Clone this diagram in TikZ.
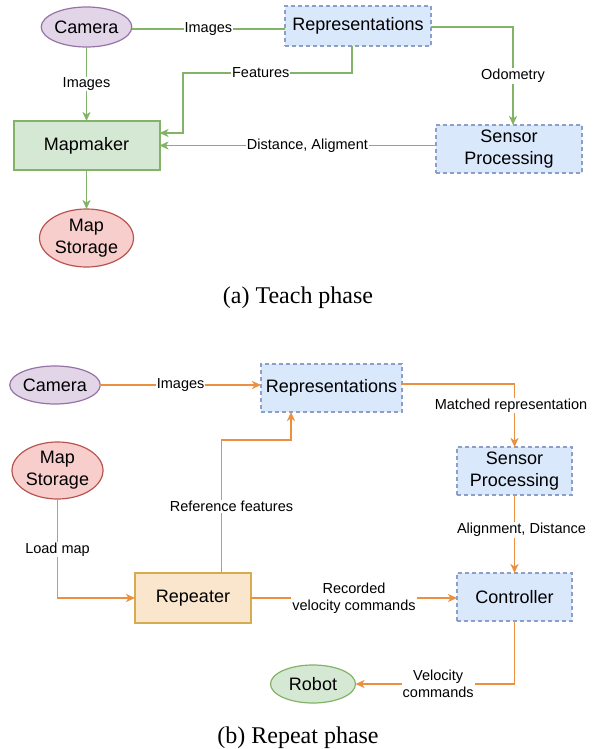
\documentclass[tikz,border=0pt]{standalone}
\usepackage{fontspec}
\setmainfont{Liberation Sans}
\newfontfamily\capfont{Liberation Serif}
\usetikzlibrary{arrows.meta,shapes.geometric}
\definecolor{purf}{HTML}{E1D5E7}
\definecolor{purd}{HTML}{9673A6}
\definecolor{redf}{HTML}{F8CECC}
\definecolor{redd}{HTML}{B85450}
\definecolor{grnf}{HTML}{D5E8D4}
\definecolor{grnd}{HTML}{82B366}
\definecolor{bluf}{HTML}{DAE8FC}
\definecolor{blud}{HTML}{8C9FCB}
\definecolor{yelf}{HTML}{F9E6CC}
\definecolor{yeld}{HTML}{D6AC50}
\definecolor{orgl}{HTML}{EA9040}
\begin{document}
\begin{tikzpicture}[x=1pt,y=-1pt,
  nodetxt/.style={font=\fontsize{18}{22}\selectfont},
  ell/.style={ellipse, draw, line width=1.2pt, inner sep=0pt, outer sep=0pt, nodetxt, align=center},
  box/.style={rectangle, draw, line width=1.2pt, inner sep=0pt, outer sep=0pt, nodetxt, align=center},
  dbox/.style={box, fill=bluf, draw=blud, dash pattern=on 4pt off 3pt},
  lbl/.style={fill=white, inner sep=1pt, font=\fontsize{14.5}{17}\selectfont, align=center},
  gline/.style={draw=grnd, line width=1.7pt},
  garr/.style={gline, -{Stealth[length=9pt,width=8pt,inset=2.5pt]}},
  oline/.style={draw=orgl, line width=1.7pt},
  oarr/.style={oline, -{Stealth[length=9pt,width=8pt,inset=2.5pt]}},
  caption/.style={font=\capfont\fontsize{24}{28}\selectfont}
]
\useasboundingbox (0,0) rectangle (592,749);

% ---------- Teach phase ----------
\node[ell, fill=purf, draw=purd, minimum width=85pt, minimum height=40pt] (cam1) at (86.5,27) {Camera};
\node[dbox, minimum width=146pt, minimum height=40pt] (rep1) at (358,26) {Representations};
\node[box, fill=grnf, draw=grnd, line width=2pt, minimum width=146pt, minimum height=49pt] (map1) at (86.5,145.5) {Mapmaker};
\node[ell, fill=redf, draw=redd, minimum width=94pt, minimum height=58pt] (ms1) at (86.5,238) {Map\\Storage};
\node[dbox, minimum width=146pt, minimum height=48pt] (sp1) at (509,149) {Sensor\\Processing};

\draw[gline] ([yshift=-2pt]cam1.east) -- node[lbl]{Images} ([yshift=-2pt]cam1.east -| rep1.west);
\draw[garr] (cam1.south) -- node[lbl]{Images} (map1.north);
\draw[garr] ([xshift=-6pt]rep1.south) -- ++(0,27) -- node[lbl,pos=0.54]{Features} ++(-169,0) |- ([yshift=12.5pt]map1.east);
\draw[garr] ([yshift=-1pt]rep1.east) -| node[lbl,pos=0.75]{Odometry} ([xshift=4pt]sp1.north);
\draw[garr] (sp1.west |- map1.east) -- node[lbl,pos=0.465]{Distance, Aligment} (map1.east);
\draw[garr] (map1.south) -- (ms1.north);

\node[caption] (capa) at (298,298) {(a) Teach phase};

% ---------- Repeat phase ----------
\node[ell, fill=purf, draw=purd, minimum width=85pt, minimum height=38pt] (cam2) at (55,385) {Camera};
\node[dbox, minimum width=141pt, minimum height=48pt] (rep2) at (331.5,388) {Representations};
\node[ell, fill=redf, draw=redd, minimum width=91pt, minimum height=57pt] (ms2) at (57.5,470.5) {Map\\Storage};
\node[box, fill=yelf, draw=yeld, line width=2pt, minimum width=116pt, minimum height=50pt] (rpt) at (193,598) {Repeater};
\node[dbox, minimum width=115pt, minimum height=48pt] (sp2) at (514.5,471) {Sensor\\Processing};
\node[dbox, minimum width=115pt, minimum height=48pt] (ctl) at (514.5,597) {Controller};
\node[ell, fill=grnf, draw=grnd, minimum width=85pt, minimum height=38pt] (rob) at (313,684) {Robot};
\coordinate (rb) at (291,440);

\draw[oarr] (cam2.east) -- node[lbl]{Images} (cam2.east -| rep2.west);
\draw[oarr] ([yshift=4pt]rep2.east) -| node[lbl,pos=0.67,xshift=-3.5pt]{Matched representation} (sp2.north);
\draw[oarr] (sp2.south) -- node[lbl,pos=0.45,xshift=7pt]{Alignment, Distance} (ctl.north);
\draw[oarr] (ms2.south) |- node[lbl,pos=0.255]{Load map} (rpt.west);
\draw[oarr] ([xshift=28.5pt]rpt.north) |- node[lbl,pos=0.25,xshift=10pt]{Reference features} (rb) -- (rb |- rep2.south);
\draw[oarr] (rpt.east) -- node[lbl]{Recorded\\velocity commands} (ctl.west |- rpt.east);
\draw[oarr] (ctl.south) |- node[lbl,pos=0.74]{Velocity\\commands} (rob.east);

\node[caption] (capb) at (298,738) {(b) Repeat phase};
\end{tikzpicture}
\end{document}
